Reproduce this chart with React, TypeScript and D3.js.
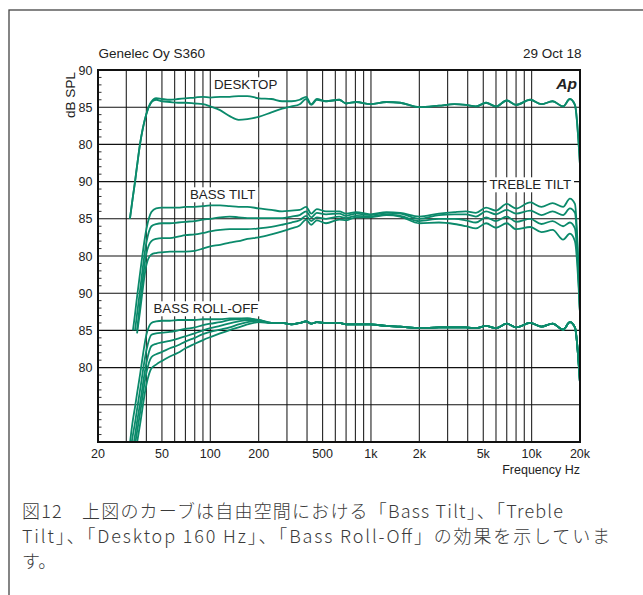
import { useEffect, useRef } from 'react';
import * as d3 from 'd3';

// measurement frequencies (Hz), shared by every curve
const FREQS = [
	31.6, 33, 34, 35, 36.5, 40, 43, 46, 50, 56, 63, 70, 80, 90, 100, 115, 132, 150, 170, 200,
	240, 280, 320, 360, 395, 425, 460, 525, 635, 700, 810, 990, 1250, 1520, 2000, 2650, 3300,
	3900, 4500, 5200, 6000, 7000, 8000, 9800, 11500, 13500, 15700, 17300, 18600, 20000,
];

// DESKTOP group (dB SPL)
const desktopFlat = [
	70.0, 73.0, 75.0, 77.1, 80.0, 84.1, 85.7, 86.2, 86.1, 86.0, 86.1, 86.2, 86.3, 86.4, 86.3,
	86.4, 86.4, 86.5, 86.5, 86.2, 86.1, 85.8, 85.8, 86.0, 86.4, 85.4, 86.1, 85.8, 86.0, 85.5,
	85.7, 85.4, 85.7, 85.6, 85.0, 85.2, 85.4, 85.3, 85.1, 85.6, 85.1, 85.9, 85.3, 86.0, 85.4,
	85.8, 85.1, 86.1, 85.3, 77.2,
];
const desktop160 = [
	70.0, 73.0, 75.0, 77.1, 80.0, 84.1, 85.7, 86.0, 85.8, 85.7, 85.6, 85.6, 85.5, 85.4, 85.1,
	84.6, 83.8, 83.3, 83.4, 83.7, 84.3, 84.8, 85.1, 85.4, 86.1, 85.3, 86.0, 85.8, 86.0, 85.5,
	85.7, 85.4, 85.7, 85.6, 85.0, 85.2, 85.4, 85.3, 85.1, 85.6, 85.1, 85.9, 85.3, 86.0, 85.4,
	85.8, 85.1, 86.1, 85.3, 77.2,
];

// BASS TILT / TREBLE TILT group (dB SPL)
const tilt1 = [
	null, 70.0, 72.2, 74.5, 77.6, 83.6, 85.9, 86.4, 86.5, 86.5, 86.5, 86.6, 86.6, 86.7, 86.8,
	86.8, 86.7, 86.6, 86.6, 86.4, 86.2, 86.0, 86.1, 86.2, 86.6, 85.7, 86.3, 86.0, 86.0, 85.7,
	85.9, 85.6, 85.9, 85.8, 85.3, 85.7, 85.9, 86.0, 85.8, 86.5, 86.1, 87.0, 86.4, 87.2, 86.6,
	87.1, 86.6, 87.7, 87.0, 72.3,
];
const tilt2 = [
	null, null, 70.0, 72.2, 75.3, 81.8, 84.0, 84.3, 84.4, 84.4, 84.5, 84.6, 84.7, 84.9, 85.0,
	85.2, 85.3, 85.2, 85.1, 85.1, 85.1, 85.1, 85.3, 85.5, 86.0, 85.2, 85.8, 85.6, 85.7, 85.4,
	85.7, 85.5, 85.8, 85.7, 85.0, 85.5, 85.6, 85.6, 85.3, 86.0, 85.6, 86.2, 85.7, 86.1, 85.5,
	86.0, 85.5, 86.4, 85.8, 72.3,
];
const tilt3 = [
	null, null, null, 70.0, 73.6, 80.3, 82.0, 82.3, 82.4, 82.4, 82.6, 82.8, 82.9, 83.1, 83.3,
	83.5, 83.6, 83.6, 83.6, 83.7, 83.9, 84.2, 84.5, 84.8, 85.4, 84.7, 85.2, 85.0, 85.3, 85.1,
	85.4, 85.3, 85.6, 85.4, 84.7, 85.0, 85.0, 84.8, 84.5, 85.2, 84.7, 85.3, 84.6, 85.0, 84.3,
	84.7, 84.0, 84.5, 83.7, 72.3,
];
const tilt4 = [
	null, null, null, 69.6, 72.5, 78.8, 80.2, 80.4, 80.5, 80.6, 80.6, 80.6, 80.7, 81.0, 81.3,
	81.5, 81.8, 82.0, 82.3, 82.5, 82.9, 83.3, 83.7, 84.1, 84.9, 84.2, 84.8, 84.4, 84.9, 84.8,
	85.2, 85.2, 85.5, 85.3, 84.4, 84.5, 84.3, 84.0, 83.7, 84.4, 83.8, 84.4, 83.6, 83.9, 83.2,
	83.5, 82.2, 83.0, 82.0, 72.3,
];

// BASS ROLL-OFF group (dB SPL); the five curves merge above ~250 Hz
const rollOffHigh = [
	86.0, 85.8, 86.0, 86.2, 85.9, 86.1, 86.0, 86.0, 85.8, 85.8, 85.8, 85.6, 85.5, 85.3, 85.4,
	85.4, 85.4, 85.3, 85.6, 85.3, 85.9, 85.4, 86.0, 85.5, 85.9, 85.1, 86.1, 85.4, 77.9,
];
const rollOff0 = [69.8, 73.0, 74.7, 76.5, 79.0, 84.4, 86.0, 86.2, 86.3, 86.3, 86.4, 86.4, 86.4, 86.5, 86.5, 86.5, 86.6, 86.6, 86.6, 86.3, 86.0];
const rollOff1 = [68.3, 71.0, 72.6, 74.4, 76.9, 82.3, 84.4, 84.6, 84.7, 84.8, 85.0, 85.2, 85.4, 85.7, 85.9, 86.1, 86.4, 86.5, 86.6, 86.4, 86.0];
const rollOff2 = [66.6, 69.2, 70.9, 72.7, 75.1, 80.6, 82.9, 83.2, 83.4, 83.6, 83.9, 84.2, 84.6, 85.0, 85.3, 85.6, 85.95, 86.2, 86.4, 86.4, 86.0];
const rollOff3 = [65.3, 67.9, 69.6, 71.4, 73.8, 79.3, 81.4, 81.8, 82.1, 82.6, 83.0, 83.5, 84.0, 84.5, 84.8, 85.1, 85.4, 85.8, 86.1, 86.3, 86.0];
const rollOff4 = [63.8, 66.4, 68.1, 69.9, 72.3, 77.7, 79.9, 80.4, 80.9, 81.5, 82.0, 82.6, 83.2, 83.7, 84.1, 84.6, 85.05, 85.4, 85.8, 86.1, 86.0];

// the three groups share one axis; each is shifted down by its offset
const GROUPS = [
	{ offset: 0, curves: [desktopFlat, desktop160] },
	{ offset: -15, curves: [tilt1, tilt2, tilt3, tilt4] },
	{
		offset: -30,
		curves: [rollOff0, rollOff1, rollOff2, rollOff3, rollOff4].map((low) => [...low, ...rollOffHigh]),
	},
];

const Y_TICKS = [90, 85, 80, 75, 70, 65, 60, 55, 50];
const Y_TICK_LABELS = ['90', '85', '80', '90', '85', '80', '90', '85', '80'];
const X_TICKS = [20, 50, 100, 200, 500, 1000, 2000, 5000, 10000, 20000];
const X_TICK_LABELS = ['20', '50', '100', '200', '500', '1k', '2k', '5k', '10k', '20k'];
const GRID_FREQS = [
	30, 40, 50, 60, 70, 80, 90, 100, 200, 300, 400, 500, 600, 700, 800, 900, 1000, 2000, 3000,
	4000, 5000, 6000, 7000, 8000, 9000, 10000,
];
const CAPTION = [
	'図12　上図のカーブは自由空間における「Bass Tilt」、「Treble',
	'Tilt」、「Desktop 160 Hz」、「Bass Roll-Off」の効果を示していま',
	'す。',
];
const CAPTION_WIDTHS = [541, 588, null];

const GREEN = '#0b8a6b';
const SANS = '"Liberation Sans", Arial, sans-serif';

const App = () => {
	const ref = useRef(null);

	useEffect(() => {
		const svg = d3.select(ref.current);
		svg.selectAll('*').remove();

		const plot = { left: 98, right: 580, top: 70, bottom: 442 };
		const x = d3.scaleLog().domain([20, 20000]).range([plot.left, plot.right]);
		const y = d3.scaleLinear().domain([40, 90]).range([plot.bottom, plot.top]);

		// outer frame (runs off the right and bottom of the picture)
		svg
			.append('rect')
			.attr('x', 9)
			.attr('y', 10)
			.attr('width', 700)
			.attr('height', 700)
			.attr('fill', 'none')
			.attr('stroke', '#444')
			.attr('stroke-width', 1.3);

		svg
			.append('text')
			.attr('x', 98.5)
			.attr('y', 58.3)
			.attr('font-family', SANS)
			.attr('font-size', 13.5)
			.attr('fill', '#222')
			.text('Genelec Oy S360');
		svg
			.append('text')
			.attr('x', 581.5)
			.attr('y', 58.3)
			.attr('text-anchor', 'end')
			.attr('font-family', SANS)
			.attr('font-size', 13.5)
			.attr('fill', '#222')
			.text('29 Oct 18');

		// grid
		const grid = svg.append('g');
		grid
			.selectAll('line.v')
			.data(GRID_FREQS)
			.join('line')
			.attr('x1', (d) => x(d))
			.attr('x2', (d) => x(d))
			.attr('y1', plot.top)
			.attr('y2', plot.bottom)
			.attr('stroke', '#222')
			.attr('stroke-width', 1.1);
		grid
			.selectAll('line.h')
			.data(d3.range(45, 90, 5))
			.join('line')
			.attr('x1', plot.left)
			.attr('x2', plot.right)
			.attr('y1', (d) => y(d))
			.attr('y2', (d) => y(d))
			.attr('stroke', '#111')
			.attr('stroke-width', 1.1);
		grid
			.selectAll('line.minor')
			.data(d3.range(41, 90).filter((d) => d % 5 !== 0))
			.join('line')
			.attr('x1', plot.left)
			.attr('x2', plot.left + 3.5)
			.attr('y1', (d) => y(d))
			.attr('y2', (d) => y(d))
			.attr('stroke', '#333')
			.attr('stroke-width', 1);

		// curve labels on white boxes
		const labels = [
			{ text: 'DESKTOP', x: 214, y: 89.3 },
			{ text: 'BASS TILT', x: 190, y: 199.3 },
			{ text: 'TREBLE TILT', x: 489.5, y: 189.3 },
			{ text: 'BASS ROLL-OFF', x: 153.5, y: 313.3 },
		];
		labels.forEach((l) => {
			const g = svg.append('g');
			const box = g.append('rect').attr('fill', '#fff');
			const t = g
				.append('text')
				.attr('x', l.x)
				.attr('y', l.y)
				.attr('font-family', SANS)
				.attr('font-size', 13.3)
				.attr('fill', '#222')
				.text(l.text);
			const b = t.node().getBBox();
			box
				.attr('x', b.x - 3)
				.attr('y', b.y)
				.attr('width', b.width + 6)
				.attr('height', b.height);
		});

		// curves
		svg
			.append('clipPath')
			.attr('id', 'plot-clip')
			.append('rect')
			.attr('x', plot.left)
			.attr('y', plot.top)
			.attr('width', plot.right - plot.left)
			.attr('height', plot.bottom - plot.top);

		const curves = svg.append('g').attr('clip-path', 'url(#plot-clip)');
		GROUPS.forEach((group) => {
			const line = d3
				.line()
				.defined((d) => d[1] !== null)
				.x((d) => x(d[0]))
				.y((d) => y(d[1] + group.offset))
				.curve(d3.curveMonotoneX);
			group.curves.forEach((values) => {
				curves
					.append('path')
					.datum(FREQS.map((f, i) => [f, values[i]]))
					.attr('fill', 'none')
					.attr('stroke', GREEN)
					.attr('stroke-width', 1.8)
					.attr('stroke-linejoin', 'round')
					.attr('d', line);
			});
		});

		// plot border
		svg
			.append('rect')
			.attr('x', plot.left)
			.attr('y', plot.top)
			.attr('width', plot.right - plot.left)
			.attr('height', plot.bottom - plot.top)
			.attr('fill', 'none')
			.attr('stroke', '#111')
			.attr('stroke-width', 2);

		svg
			.append('text')
			.attr('x', 577)
			.attr('y', 88.5)
			.attr('text-anchor', 'end')
			.attr('font-family', SANS)
			.attr('font-size', 15.5)
			.attr('font-weight', 'bold')
			.attr('font-style', 'italic')
			.attr('fill', '#222')
			.text('Ap');

		// y axis labels
		svg
			.selectAll('text.ytick')
			.data(Y_TICKS)
			.join('text')
			.attr('x', 92.5)
			.attr('y', (d) => y(d))
			.attr('dy', '0.36em')
			.attr('text-anchor', 'end')
			.attr('font-family', SANS)
			.attr('font-size', 12.5)
			.attr('fill', '#222')
			.text((d, i) => Y_TICK_LABELS[i]);
		svg
			.append('text')
			.attr('transform', 'translate(75, 95) rotate(-90)')
			.attr('text-anchor', 'middle')
			.attr('font-family', SANS)
			.attr('font-size', 13.5)
			.attr('fill', '#222')
			.text('dB SPL');

		// x axis labels
		svg
			.selectAll('text.xtick')
			.data(X_TICKS)
			.join('text')
			.attr('x', (d) => x(d))
			.attr('y', 458)
			.attr('text-anchor', 'middle')
			.attr('font-family', SANS)
			.attr('font-size', 12.5)
			.attr('fill', '#222')
			.text((d, i) => X_TICK_LABELS[i]);
		svg
			.append('text')
			.attr('x', 580)
			.attr('y', 474)
			.attr('text-anchor', 'end')
			.attr('font-family', SANS)
			.attr('font-size', 12.5)
			.attr('fill', '#222')
			.text('Frequency Hz');

		// caption
		svg
			.selectAll('text.caption')
			.data(CAPTION)
			.join('text')
			.attr('x', 22)
			.attr('y', (d, i) => 518 + i * 25)
			.attr('font-family', '"Noto Sans CJK JP", sans-serif')
			.attr('font-size', 18)
			.attr('font-weight', 300)
			.attr('fill', '#3a3a3a')
			.each(function (d, i) {
				if (CAPTION_WIDTHS[i]) {
					d3.select(this).attr('textLength', CAPTION_WIDTHS[i]).attr('lengthAdjust', 'spacing');
				}
			})
			.text((d) => d);
	}, []);

	return (
		<svg
			ref={ref}
			width={643}
			height={595}
			style={{ position: 'absolute', left: 0, top: 0, background: '#fff' }}
		/>
	);
};

export default App;
